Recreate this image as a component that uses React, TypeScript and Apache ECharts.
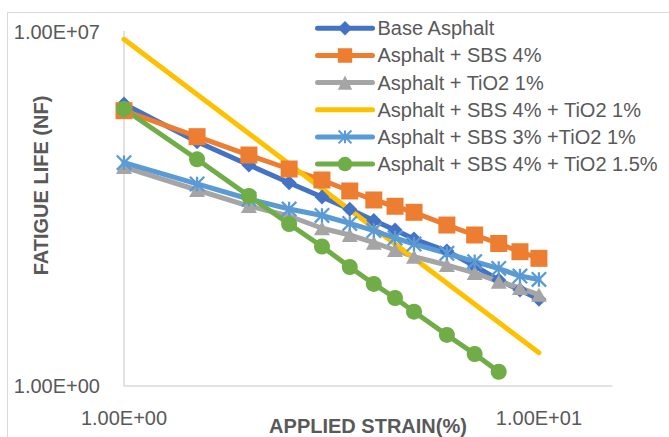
import React, { useEffect, useRef } from "react";
import * as echarts from "echarts";

// ---- data ----
const strainValues = [1, 1.5, 2, 2.5, 3, 3.5, 4, 4.5, 5, 6, 7, 8, 9, 10];

const seriesNames = [
  "Base Asphalt",
  "Asphalt + SBS 4%",
  "Asphalt + TiO2 1%",
  "Asphalt + SBS 4% + TiO2 1%",
  "Asphalt + SBS 3% +TiO2 1%",
  "Asphalt + SBS 4% + TiO2 1.5%",
];

const baseAsphalt = [369000, 66200, 22900, 10240, 5340, 3050, 1830, 1190, 789, 457, 231, 122, 77, 51];
const sbs4 = [272000, 83200, 36100, 19100, 11580, 7020, 4660, 3500, 2660, 1490, 946, 643, 442, 327];
const tio2_1 = [20900, 7340, 3540, 2250, 1285, 946, 666, 478, 352, 241, 168, 113, 85, 62];
const sbs4Tio2_1Strain = [1, 10];
const sbs4Tio2_1 = [7020000, 4.45];
const sbs3Tio2_1 = [25500, 9660, 4870, 3090, 2300, 1600, 1160, 826, 628, 411, 281, 206, 146, 125];
const sbs4Tio2_15 = [294000, 29700, 5590, 1560, 561, 220, 102, 53.7, 28.8, 10, 4.2, 1.87];

const xTickValues = [1, 10];
const xTickLabels = ["1.00E+00", "1.00E+01"];
const yTickValues = [1, 10000000];
const yTickLabels = ["1.00E+00", "1.00E+07"];

const colors = ["#4472C4", "#ED7D31", "#A5A5A5", "#FFC000", "#5B9BD5", "#70AD47"];

const FONT = "'Liberation Sans', Arial, sans-serif";
const TEXT_COLOR = "#595959";
const AXIS_COLOR = "#d9d9d9";
const LINE_WIDTH = 5;

const STAR_PATH =
  "path://M42,0L58,0L58,100L42,100Z" +
  "M5.66,-5.66L105.66,94.34L94.34,105.66L-5.66,5.66Z" +
  "M94.34,-5.66L105.66,5.66L5.66,105.66L-5.66,94.34Z";

function pairs(xs: number[], ys: number[]) {
  return ys.map((y, i) => [xs[i], y]);
}

function tickFormatter(values: number[], labels: string[]) {
  return (v: number) => {
    const lv = Math.log10(v);
    for (let i = 0; i < values.length; i++) {
      if (Math.abs(lv - Math.log10(values[i])) < 1e-6) return labels[i];
    }
    return "";
  };
}

export default function App() {
  const ref = useRef<HTMLDivElement>(null);

  useEffect(() => {
    if (!ref.current) return;
    const chart = echarts.init(ref.current, undefined, { renderer: "svg" });

    const lineStyle = (c: string) => ({ color: c, width: LINE_WIDTH, cap: "round", join: "round" });

    const option: any = {
      animation: false,
      backgroundColor: "#ffffff",
      textStyle: { fontFamily: FONT },
      grid: { left: 124, right: 57, top: 31.5, bottom: 51.5 },
      xAxis: {
        type: "log",
        logBase: 10,
        min: 1,
        max: 15,
        axisLine: { show: true, onZero: false, lineStyle: { color: AXIS_COLOR, width: 1.5 } },
        axisTick: { show: false },
        splitLine: { show: false },
        minorSplitLine: { show: false },
        axisLabel: {
          formatter: tickFormatter(xTickValues, xTickLabels),
          color: TEXT_COLOR,
          fontSize: 20,
          fontFamily: FONT,
          margin: 22,
        },
      },
      yAxis: {
        type: "log",
        logBase: 10,
        min: 1,
        max: 10000000,
        axisLine: { show: true, onZero: false, lineStyle: { color: AXIS_COLOR, width: 1.5 } },
        axisTick: { show: false },
        splitLine: { show: false },
        axisLabel: {
          formatter: tickFormatter(yTickValues, yTickLabels),
          color: TEXT_COLOR,
          fontSize: 20,
          fontFamily: FONT,
          margin: 24,
        },
      },
      legend: {
        orient: "vertical",
        left: 315,
        top: 18.3,
        itemWidth: 55,
        itemHeight: 18,
        itemGap: 7.15,
        padding: 0,
        lineStyle: { width: LINE_WIDTH },
        textStyle: { color: TEXT_COLOR, fontSize: 20, lineHeight: 20, fontFamily: FONT },
        data: seriesNames,
      },
      graphic: [
        {
          type: "rect",
          silent: true,
          z: -10,
          shape: { x: 7.5, y: 12.5, width: 800, height: 600 },
          style: { fill: "none", stroke: AXIS_COLOR, lineWidth: 1 },
        },
        {
          type: "text",
          x: 41,
          y: 185.5,
          rotation: Math.PI / 2,
          style: {
            text: "FATIGUE LIFE (NF)",
            fill: TEXT_COLOR,
            fontSize: 20,
            fontWeight: "bold",
            fontFamily: FONT,
            align: "center",
            verticalAlign: "middle",
          },
        },
        {
          type: "text",
          x: 368,
          y: 425.5,
          style: {
            text: "APPLIED STRAIN(%)",
            fill: TEXT_COLOR,
            fontSize: 20,
            fontWeight: "bold",
            fontFamily: FONT,
            align: "center",
            verticalAlign: "middle",
          },
        },
      ],
      series: [
        {
          name: seriesNames[0],
          type: "line",
          data: pairs(strainValues, baseAsphalt),
          symbol: "diamond",
          symbolSize: 15,
          color: colors[0],
          lineStyle: lineStyle(colors[0]),
        },
        {
          name: seriesNames[1],
          type: "line",
          data: pairs(strainValues, sbs4),
          symbol: "rect",
          symbolSize: 17,
          color: colors[1],
          lineStyle: lineStyle(colors[1]),
        },
        {
          name: seriesNames[2],
          type: "line",
          data: pairs(strainValues, tio2_1),
          symbol: "triangle",
          symbolSize: [16, 14],
          color: colors[2],
          lineStyle: lineStyle(colors[2]),
        },
        {
          name: seriesNames[3],
          type: "line",
          data: pairs(sbs4Tio2_1Strain, sbs4Tio2_1),
          symbol: "circle",
          showSymbol: false,
          itemStyle: { color: "transparent" },
          lineStyle: lineStyle(colors[3]),
        },
        {
          name: seriesNames[4],
          type: "line",
          data: pairs(strainValues, sbs3Tio2_1),
          symbol: STAR_PATH,
          symbolSize: 16,
          color: colors[4],
          lineStyle: lineStyle(colors[4]),
        },
        {
          name: seriesNames[5],
          type: "line",
          data: pairs(strainValues, sbs4Tio2_15),
          symbol: "circle",
          symbolSize: 16,
          color: colors[5],
          lineStyle: lineStyle(colors[5]),
        },
      ],
    };

    chart.setOption(option);
    return () => chart.dispose();
  }, []);

  return (
    <div
      ref={ref}
      style={{ position: "fixed", left: 0, top: 0, width: 669, height: 437, background: "#fff" }}
    />
  );
}
